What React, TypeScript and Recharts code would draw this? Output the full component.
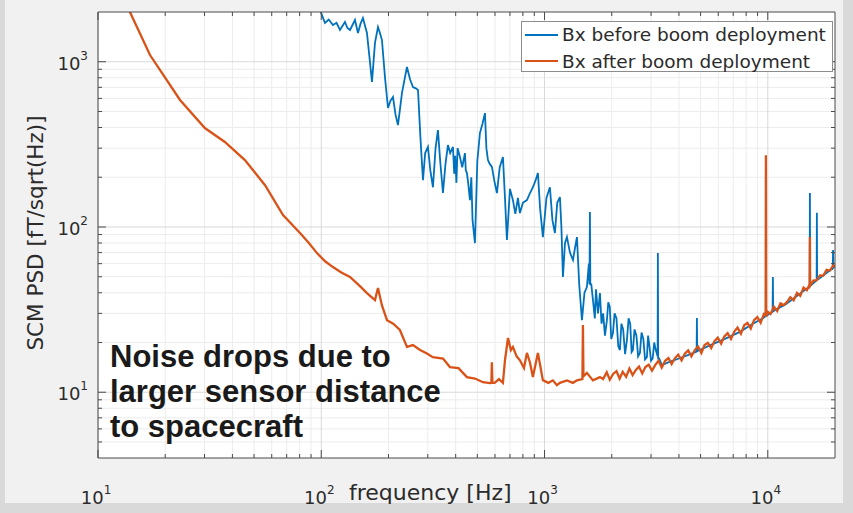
import React from 'react';
import { LineChart, Line, XAxis, YAxis, Legend, Customized, CartesianGrid } from 'recharts';

// ---------- data ----------
const beforeFreq = [90, 99.4, 103.9, 108, 112.8, 117, 121.3, 127.7, 131, 134.5, 141.6, 146, 150, 153.7, 160.2, 164, 168.7, 174, 179.5, 183, 187, 193, 199, 204, 209.5, 215, 220.6, 230, 242, 250, 257.5, 265, 271.2, 278, 285.5, 292, 300.5, 308, 316.4, 325, 333.1, 341, 350.8, 360, 369.3, 378, 388.9, 394, 398, 403, 408, 418, 428, 440.1, 444, 449.3, 456, 463.4, 470, 476, 487.9, 500, 513.6, 527, 541, 549, 557.9, 569, 581.3, 596, 612, 630, 651.2, 665, 678.6, 700, 721.9, 740, 760, 775.8, 800, 834.1, 860, 887.2, 910, 934.2, 955, 983.5, 1020, 1057, 1085, 1113, 1140, 1172, 1190, 1209, 1235, 1260, 1300, 1341, 1370, 1397, 1430, 1471, 1510, 1548, 1580, 1590, 1597, 1604, 1620, 1648, 1680, 1700, 1735, 1771, 1800, 1830, 1865, 1903, 1930, 1960, 1990, 2025, 2060, 2100, 2140, 2176, 2210, 2250, 2295, 2339, 2380, 2420, 2455, 2488, 2530, 2580, 2625, 2675, 2720, 2770, 2820, 2874, 2910, 2950, 3000, 3050, 3100, 3150, 3210, 3219, 3228, 3260, 3355, 3600, 4000, 4500, 4800, 4814, 4828, 4900, 5500, 6500, 7500, 8500, 9500, 10200, 10510, 10540, 10570, 10800, 12000, 13500, 15000, 15400, 15440, 15480, 15800, 16550, 16590, 16630, 17000, 18500, 19550, 19600, 19650, 20000];
const beforePsd = [2600, 2010, 1716, 1800, 1669, 1720, 1556, 1740, 1600, 1556, 1789, 1492, 1700, 1839, 1492, 1100, 754, 1300, 1623, 1500, 1353, 800, 525, 580, 612, 480, 414, 650, 929, 780, 703, 690, 674, 350, 192, 280, 305, 220, 174, 300, 386, 250, 160.5, 240, 313, 280, 305, 210, 270, 185, 300, 265, 230, 280, 220, 212, 180, 145.5, 200, 110, 79.9, 250, 370, 420, 489, 300, 254, 240, 231, 190, 160.5, 230, 265, 150, 83.4, 170, 145.5, 120, 150, 121.4, 140, 145.5, 160, 174, 190, 212, 130, 86.9, 150, 174, 110, 91.9, 140, 151.8, 100, 49.8, 80, 86.9, 70, 63.1, 75, 86.9, 45, 27.3, 40, 43.3, 60, 45, 123.1, 45, 45, 36.1, 28, 42, 30, 39.8, 26, 30, 22, 27.3, 35, 33, 21, 22.8, 30, 28, 19, 18, 26, 24, 17, 20.7, 28, 26, 17.5, 18, 24, 22, 16.5, 17.3, 23, 21, 15.8, 16.3, 22, 19, 15.5, 16, 20, 18, 16.5, 69.5, 16, 16, 14.6, 15.2, 16.0, 17.0, 17.6, 28.1, 17.7, 17.9, 19.2, 21.2, 23.2, 25.8, 28.0, 30.0, 30.8, 49.8, 30.9, 31.5, 34.0, 38.2, 42.5, 43.5, 160.5, 44, 45, 47.5, 122, 47.8, 48.7, 53.2, 56.3, 72.5, 56.6, 58.5];

const afterFreq = [12, 13.9, 17.1, 23.3, 30.1, 37, 45.5, 56, 67.4, 80.3, 88, 95.7, 104, 112.8, 123, 134.5, 149, 160.2, 174, 179.5, 187, 197, 210, 225, 242, 257.5, 277, 296, 316, 351, 377, 412, 449, 488, 530, 570, 578, 581, 584, 598, 625, 651, 665, 686, 707, 722, 750, 776, 809, 834, 860, 887, 934, 983, 1040, 1090, 1136, 1172, 1260, 1341, 1397, 1478, 1486, 1494, 1548, 1648, 1771, 1830, 1900, 1960, 2030, 2100, 2170, 2240, 2320, 2400, 2480, 2560, 2650, 2740, 2830, 2930, 3030, 3130, 3240, 3350, 3470, 3590, 3710, 3840, 3970, 4110, 4250, 4400, 4550, 4710, 4870, 5040, 5210, 5390, 5580, 5770, 5970, 6180, 6390, 6610, 6840, 7080, 7320, 7580, 7840, 8110, 8390, 8680, 8980, 9290, 9610, 9780, 9806, 9830, 9950, 10290, 10650, 11020, 11400, 11790, 12200, 12620, 13060, 13510, 13980, 14460, 14960, 15400, 15440, 15480, 16010, 16560, 17130, 17720, 18340, 18970, 19630, 20000];
const afterPsd = [2800, 2000, 1098, 587, 397, 327, 254, 179, 118, 91.9, 80, 69.5, 62, 57.2, 53, 49.8, 43.9, 39.8, 36.1, 42.7, 33.5, 27.3, 26, 23.8, 18.8, 19.3, 18, 17.2, 16.3, 16, 14.2, 14, 12.35, 12.1, 11.5, 11.36, 11.4, 15.2, 11.4, 11.4, 12, 11.4, 15.6, 21.3, 18, 18.8, 16.5, 15.6, 14, 17.3, 15.2, 12.35, 17.3, 11.84, 11.4, 11.8, 11.04, 11.4, 11.8, 11.4, 11.8, 12, 25.5, 12.5, 13.1, 11.8, 12.35, 12.0, 13.2, 11.9, 12.9, 13.4, 12.1, 13.3, 12.4, 13.9, 12.7, 13.6, 14.3, 13.0, 14.2, 14.7, 13.5, 14.6, 15.5, 14.1, 15.5, 16.1, 14.8, 16.1, 16.9, 15.6, 17.1, 17.9, 16.5, 18.0, 18.9, 17.3, 19.3, 19.9, 18.5, 20.4, 21.4, 19.7, 21.8, 22.8, 21.0, 23.3, 24.6, 22.6, 25.4, 26.3, 24.3, 27.3, 28.5, 26.3, 29.8, 29.4, 272, 28.6, 30.8, 29.8, 32.9, 31.0, 34.5, 33.7, 35.2, 37.6, 36.0, 39.9, 38.3, 43.0, 41.5, 45, 86.9, 44.2, 47.4, 47.6, 50.9, 50.8, 55.0, 54.5, 58.6, 58];

const xMajor = [10, 100, 1000, 10000];
const xMinor = [20, 30, 40, 50, 60, 70, 80, 90, 200, 300, 400, 500, 600, 700, 800, 900, 2000, 3000, 4000, 5000, 6000, 7000, 8000, 9000];
const yMajor = [10, 100, 1000];
const yMinor = [5, 6, 7, 8, 9, 20, 30, 40, 50, 60, 70, 80, 90, 200, 300, 400, 500, 600, 700, 800, 900];
const xTickBase = ['10', '10', '10', '10'];
const xTickExp = ['1', '2', '3', '4'];
const yTickBase = ['10', '10', '10'];
const yTickExp = ['1', '2', '3'];

const seriesNames = ['Bx before boom deployment', 'Bx after boom deployment'];
const seriesColors = ['#0072BD', '#D95319'];
const xLabelText = 'frequency [Hz]';
const yLabelText = 'SCM PSD [fT/sqrt(Hz)]';
const noteLines = ['Noise drops due to', 'larger sensor distance', 'to spacecraft'];

const beforeData = beforeFreq.map((f, i) => ({ f, psd: beforePsd[i] }));
const afterData = afterFreq.map((f, i) => ({ f, psd: afterPsd[i] }));

const X_DOMAIN: [number, number] = [10, 20000];
const Y_DOMAIN: [number, number] = [4, 2000];
const xTicks = [...xMajor, ...xMinor];
const yTicks = [...yMajor, ...yMinor];

const FONT = '"DejaVu Sans", sans-serif';
const AXIS = '#4a4a4a';
const TXT = '#2b2b2b';

const BottomTick = (props: any) => {
  const { payload } = props;
  const x = payload.coordinate;
  const y = props.y;
  const i = xMajor.indexOf(payload.value);
  const len = i >= 0 ? 8 : 4;
  return (
    <g>
      <line x1={x} x2={x} y1={y} y2={y - len} stroke={AXIS} strokeWidth={1} />
      {i >= 0 && (
        <text x={x - 2} y={y + 46} textAnchor="middle" fontFamily={FONT} fontSize={18} fill={TXT}>
          {xTickBase[i]}
          <tspan dy={-10} fontSize={12}>{xTickExp[i]}</tspan>
        </text>
      )}
    </g>
  );
};

const TopTick = (props: any) => {
  const { payload } = props;
  const x = payload.coordinate;
  const y = props.y;
  const len = xMajor.includes(payload.value) ? 8 : 4;
  return <line x1={x} x2={x} y1={y} y2={y + len} stroke={AXIS} strokeWidth={1} />;
};

const LeftTick = (props: any) => {
  const { payload } = props;
  const y = payload.coordinate;
  const x = props.x;
  const i = yMajor.indexOf(payload.value);
  const len = i >= 0 ? 8 : 4;
  return (
    <g>
      <line x1={x} x2={x + len} y1={y} y2={y} stroke={AXIS} strokeWidth={1} />
      {i >= 0 && (
        <text x={x - 10} y={y + 8} textAnchor="end" fontFamily={FONT} fontSize={18} fill={TXT}>
          {yTickBase[i]}
          <tspan dy={-10} fontSize={12}>{yTickExp[i]}</tspan>
        </text>
      )}
    </g>
  );
};

const RightTick = (props: any) => {
  const { payload } = props;
  const y = payload.coordinate;
  const x = props.x;
  const len = yMajor.includes(payload.value) ? 8 : 4;
  return <line x1={x} x2={x - len} y1={y} y2={y} stroke={AXIS} strokeWidth={1} />;
};

const AxisTexts = () => (
  <g>
    <text x={349} y={500} fontFamily={FONT} fontSize={22} fill={TXT}>{xLabelText}</text>
    <text x={43} y={233} transform="rotate(-90 43 233)" textAnchor="middle" fontFamily={FONT} fontSize={21.5} fill={TXT}>
      {yLabelText}
    </text>
  </g>
);

const LegendBox = (props: any) => {
  const payload = [...(props.payload || [])].sort(
    (a: any, b: any) => seriesNames.indexOf(a.value) - seriesNames.indexOf(b.value)
  );
  return (
    <div
      style={{
        width: 312,
        height: 51,
        background: '#fff',
        border: '1px solid #8c8c8c',
        boxSizing: 'border-box',
        fontFamily: FONT,
        fontSize: 18.5,
        color: TXT,
        position: 'relative',
      }}
    >
      {payload.map((p: any, i: number) => (
        <div
          key={i}
          style={{ position: 'absolute', left: 3, top: i === 0 ? 0 : 26.5, height: 25, display: 'flex', alignItems: 'center', whiteSpace: 'nowrap' }}
        >
          <span style={{ display: 'inline-block', width: 33, height: 2, background: p.color, marginRight: 4 }} />
          <span>{p.value}</span>
        </div>
      ))}
    </div>
  );
};

export default function App() {
  return (
    <div style={{ position: 'absolute', left: 0, top: 0, width: 853, height: 513, background: '#d9d9d9', overflow: 'hidden' }}>
      <div style={{ position: 'absolute', left: 5, top: 0, width: 838, height: 503, background: '#f1f1f1' }} />
      <div style={{ position: 'absolute', left: 0, top: 0 }}>
        <LineChart width={853} height={513} margin={{ top: 11, right: 17, bottom: 15, left: 38 }}>
          <CartesianGrid
            fill="#ffffff"
            fillOpacity={1}
            stroke="#ececec"
            horizontalValues={yMinor}
            verticalValues={xMinor}
          />
          <CartesianGrid stroke="#d9d9d9" horizontalValues={yMajor} verticalValues={xMajor} />
          <XAxis
            dataKey="f"
            type="number"
            scale="log"
            domain={X_DOMAIN}
            allowDataOverflow
            ticks={xTicks}
            interval={0}
            height={40}
            tickSize={0}
            tickMargin={0}
            tickLine={false}
            tick={<BottomTick />}
            axisLine={{ stroke: AXIS }}
          />
          <XAxis
            xAxisId="top"
            orientation="top"
            dataKey="f"
            type="number"
            scale="log"
            domain={X_DOMAIN}
            allowDataOverflow
            ticks={xTicks}
            interval={0}
            height={1}
            tickSize={0}
            tickMargin={0}
            tickLine={false}
            tick={<TopTick />}
            axisLine={{ stroke: AXIS }}
          />
          <YAxis
            dataKey="psd"
            type="number"
            scale="log"
            domain={Y_DOMAIN}
            allowDataOverflow
            ticks={yTicks}
            interval={0}
            width={60}
            tickSize={0}
            tickMargin={0}
            tickLine={false}
            tick={<LeftTick />}
            axisLine={{ stroke: AXIS }}
          />
          <YAxis
            yAxisId="right"
            orientation="right"
            dataKey="psd"
            type="number"
            scale="log"
            domain={Y_DOMAIN}
            allowDataOverflow
            ticks={yTicks}
            interval={0}
            width={1}
            tickSize={0}
            tickMargin={0}
            tickLine={false}
            tick={<RightTick />}
            axisLine={{ stroke: AXIS }}
          />
          <Line
            data={beforeData}
            dataKey="psd"
            name={seriesNames[0]}
            stroke={seriesColors[0]}
            strokeWidth={1.8}
            dot={false}
            activeDot={false}
            isAnimationActive={false}
          />
          <Line
            data={afterData}
            dataKey="psd"
            name={seriesNames[1]}
            stroke={seriesColors[1]}
            strokeWidth={2.3}
            dot={false}
            activeDot={false}
            isAnimationActive={false}
          />
          <Legend
            layout="vertical"
            align="center"
            verticalAlign="middle"
            content={<LegendBox />}
            wrapperStyle={{ left: 521, top: 21, width: 312, height: 51 }}
          />
          <Customized component={AxisTexts} />
        </LineChart>
      </div>
      <div
        style={{
          position: 'absolute',
          left: 110,
          top: 339,
          fontFamily: '"Liberation Sans", Arial, sans-serif',
          fontWeight: 'bold',
          fontSize: 31,
          lineHeight: '35px',
          color: '#1a1a1a',
          whiteSpace: 'nowrap',
          pointerEvents: 'none',
        }}
      >
        {noteLines.map((t, i) => (
          <div key={i}>{t}</div>
        ))}
      </div>
    </div>
  );
}
